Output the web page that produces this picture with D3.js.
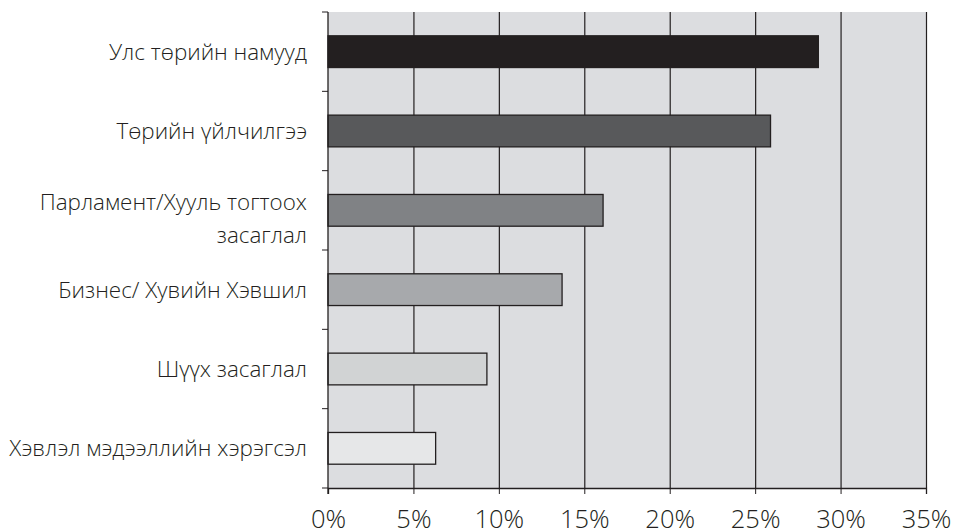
<!DOCTYPE html>
<html><head><meta charset="utf-8">
<script src="https://cdn.jsdelivr.net/npm/d3@7"></script>
<style>body{margin:0;background:#fff}text{font-family:"Open Sans",sans-serif;fill:#231f20}</style>
</head><body><svg id="c" width="954" height="530"></svg>
<script>
const categories = ["Улс төрийн намууд","Төрийн үйлчилгээ","Парламент/Хууль тогтоох засаглал","Бизнес/ Хувийн Хэвшил","Шүүх засаглал","Хэвлэл мэдээллийн хэрэгсэл"];
const labelLines = [["Улс төрийн намууд"],["Төрийн үйлчилгээ"],["Парламент/Хууль тогтоох","засаглал"],["Бизнес/ Хувийн Хэвшил"],["Шүүх засаглал"],["Хэвлэл мэдээллийн хэрэгсэл"]];
const values = [28.7, 25.9, 16.1, 13.7, 9.3, 6.3];
const barColors = ["#231f20","#58595b","#808285","#a7a9ac","#d1d3d4","#e6e7e8"];
const xTicks = [0,5,10,15,20,25,30,35];

const svg = d3.select("#c");
const L=328, R=926, T=12, B=488;
const x = d3.scaleLinear().domain([0,35]).range([L,R]);
const y = d3.scaleBand().domain(categories).range([T,B]).paddingInner(0.6).paddingOuter(0.3);
const yb = d3.scaleBand().domain(categories).range([T,B]).padding(0);

svg.append("rect").attr("x",L).attr("y",T).attr("width",R-L).attr("height",B-T).attr("fill","#dcdde0");
svg.append("g").selectAll("line").data(xTicks.slice(1)).join("line")
  .attr("x1",d=>x(d)+0.5).attr("x2",d=>x(d)+0.5).attr("y1",T).attr("y2",B)
  .attr("stroke","#231f20").attr("stroke-width",1.2);

svg.append("g").selectAll("rect").data(values).join("rect")
  .attr("x",x(0)).attr("y",(d,i)=>y(categories[i]))
  .attr("width",d=>x(d)-x(0)).attr("height",y.bandwidth())
  .attr("fill",(d,i)=>barColors[i]).attr("stroke","#231f20").attr("stroke-width",1.3);

// x axis
const xa = svg.append("g").attr("transform",`translate(0,${B})`)
  .call(d3.axisBottom(x).tickValues(xTicks).tickSize(6).tickFormat(d=>d+"%"));
xa.select(".domain").attr("stroke","#231f20").attr("stroke-width",1.3);
xa.selectAll(".tick line").attr("stroke","#231f20");
xa.selectAll(".tick text").attr("font-size",25.5).attr("y",40).attr("dy",0)
  .style("font-family","'Open Sans',sans-serif").style("font-weight",300).attr("fill","#231f20");

// y axis: ticks at band boundaries
const bounds = categories.map(c=>yb(c)).concat([B]);
svg.append("line").attr("x1",L).attr("x2",L).attr("y1",T).attr("y2",B+6).attr("stroke","#231f20").attr("stroke-width",1.3);
svg.append("g").selectAll("line").data(bounds).join("line")
  .attr("x1",L-6).attr("x2",L).attr("y1",d=>d).attr("y2",d=>d).attr("stroke","#231f20");

// labels
const lg = svg.append("g");
labelLines.forEach((lines,i)=>{
  const cy = yb(categories[i]) + yb.bandwidth()/2;
  const t = lg.append("text").attr("text-anchor","end").attr("font-size",22.4).style("font-weight",300);
  const off = lines.length>1 ? -8 : 0;
  lines.forEach((s,j)=>{
    t.append("tspan").attr("x",307).attr("y",cy+off+j*33).attr("dy","0.35em").text(s);
  });
});
</script></body></html>
